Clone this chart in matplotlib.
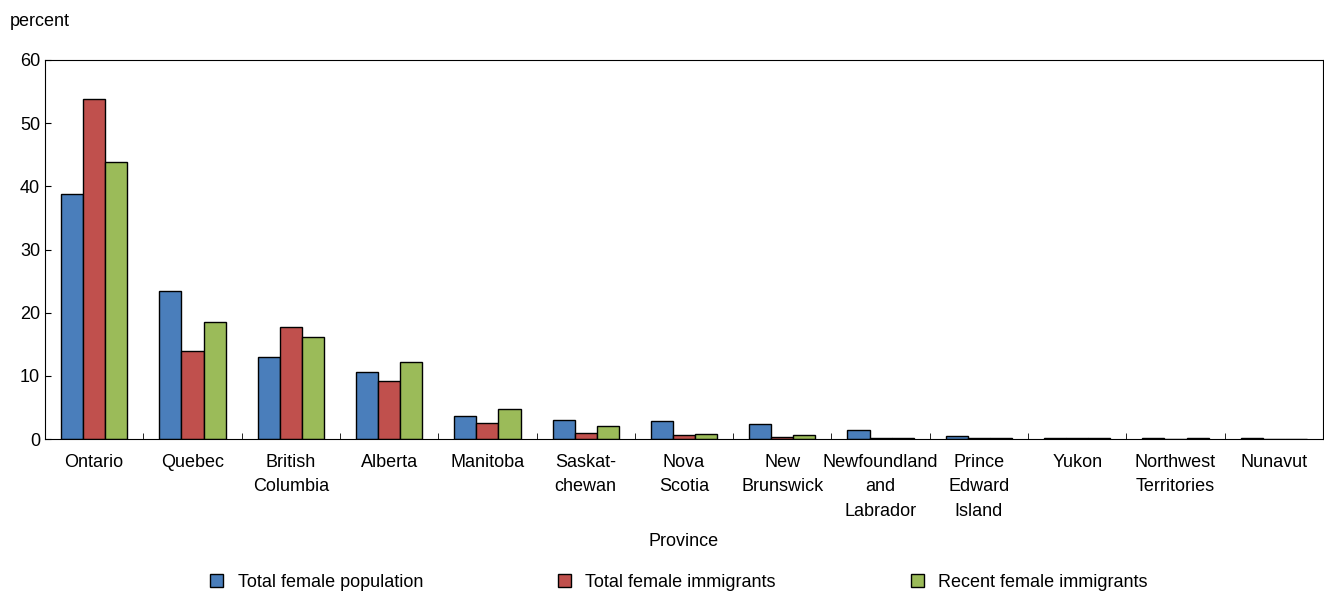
import matplotlib
matplotlib.use("Agg")
import matplotlib.pyplot as plt
import numpy as np

plt.rcParams['font.family'] = ['Liberation Sans', 'DejaVu Sans']

categories = ["Ontario", "Quebec", "British\nColumbia", "Alberta", "Manitoba", "Saskat-\nchewan",
              "Nova\nScotia", "New\nBrunswick", "Newfoundland\nand\nLabrador", "Prince\nEdward\nIsland",
              "Yukon", "Northwest\nTerritories", "Nunavut"]
total_pop = [38.8, 23.4, 13.0, 10.6, 3.6, 3.0, 2.8, 2.3, 1.5, 0.4, 0.1, 0.1, 0.1]
total_imm = [53.9, 13.9, 17.8, 9.2, 2.6, 0.9, 0.6, 0.3, 0.2, 0.1, 0.1, 0.05, 0.0]
recent_imm = [43.8, 18.6, 16.1, 12.2, 4.8, 2.1, 0.8, 0.6, 0.2, 0.1, 0.1, 0.1, 0.0]

fig = plt.figure(figsize=(13.24, 5.92), dpi=100)
ax = fig.add_axes([45/1324, 1-439/592, 1278/1324, 379/592])
x = np.arange(len(categories))
w = 0.225
cols = ['#4a7ebb', '#c0504d', '#9bbb59']
for off, vals, c, lab in [(-w, total_pop, cols[0], "Total female population"),
                          (0, total_imm, cols[1], "Total female immigrants"),
                          (w, recent_imm, cols[2], "Recent female immigrants")]:
    ax.bar(x + off, vals, w, color=c, edgecolor='black', linewidth=1, label=lab)

ax.set_xlim(-0.5, len(categories) - 0.5)
ax.set_ylim(0, 60)
ax.set_yticks(range(0, 61, 10))
ax.set_xticks(x)
ax.set_xticklabels(categories, fontsize=13, linespacing=1.55)
ax.set_xticks(np.arange(-0.5, len(categories), 1), minor=True)
ax.tick_params(axis='x', which='major', length=0, pad=11)
ax.tick_params(axis='x', which='minor', length=4, direction='in')
ax.tick_params(axis='y', labelsize=13, direction='in', length=4)
for s in ax.spines.values():
    s.set_linewidth(0.8)
ax.set_xlabel("Province", fontsize=13, labelpad=10)
fig.text(10/1324, 1-22/592, "percent", fontsize=13, va='center')
fig.legend(loc='lower center', bbox_to_anchor=(0.513, -0.025), ncol=3, frameon=False,
           fontsize=13, handlelength=0.7, handleheight=0.7, columnspacing=7.5)
fig.savefig("out.png", dpi=100)
